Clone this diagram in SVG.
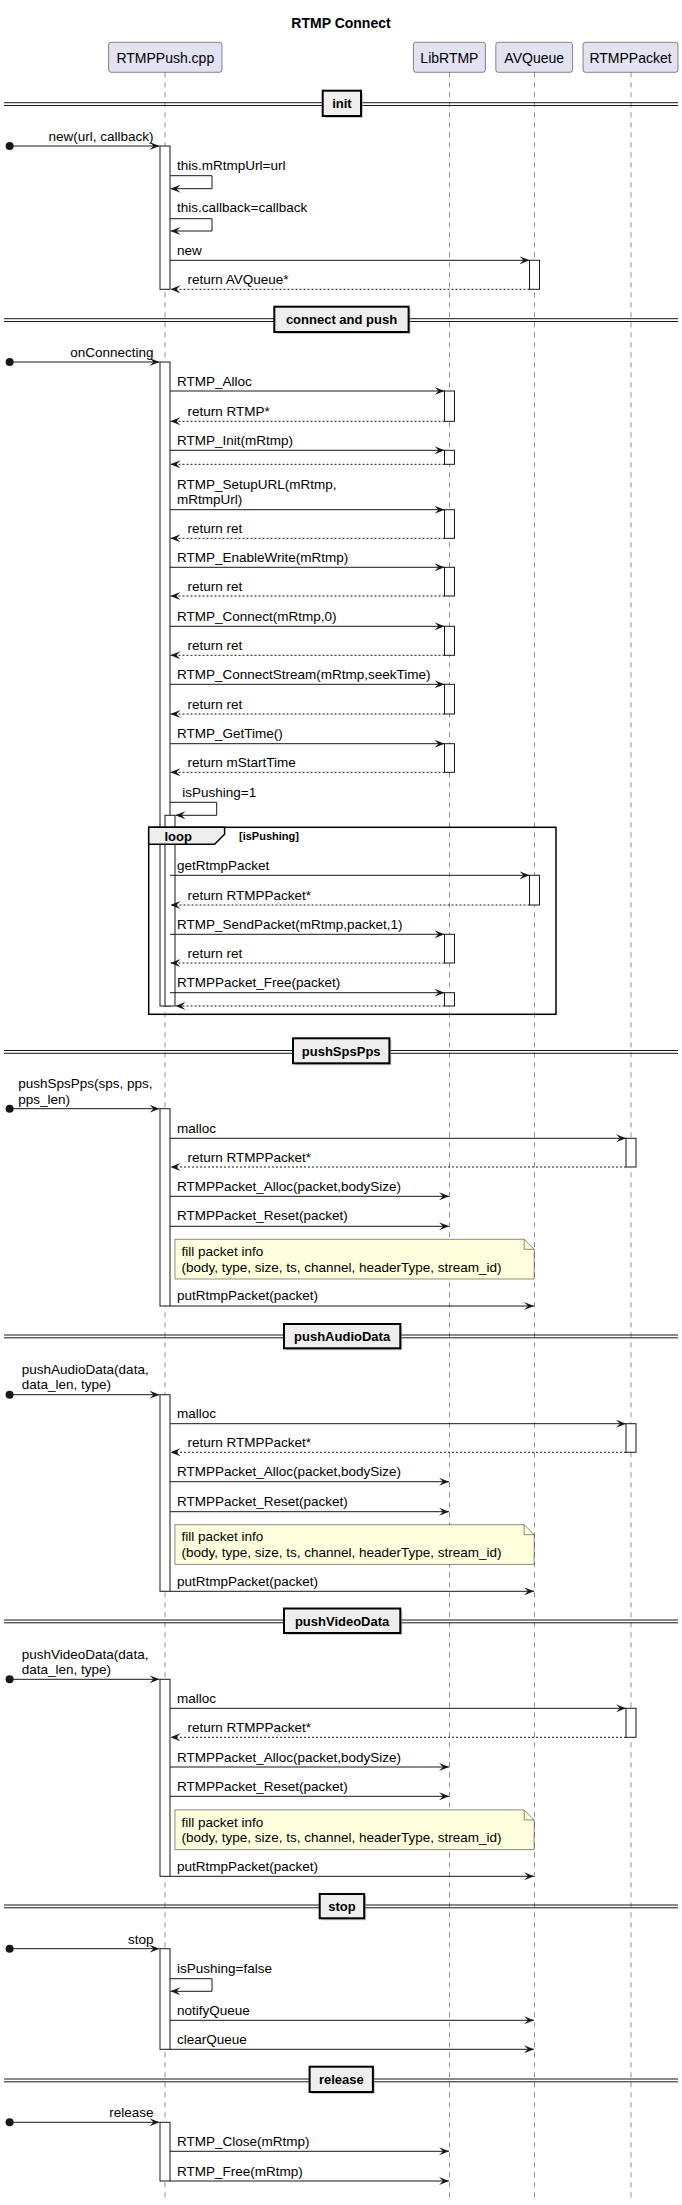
<svg xmlns="http://www.w3.org/2000/svg" width="682" height="2205" viewBox="0 0 682 2205">
<style>
text{font-family:"Liberation Sans",Arial,sans-serif;fill:#000}
.t{font-size:13.5px}
.p{font-size:14px;text-anchor:middle}
.title{font-size:14px;font-weight:bold;text-anchor:middle}
.dv{font-size:13px;font-weight:bold;text-anchor:middle}
.ll{stroke:#181818;stroke-width:0.5;stroke-dasharray:5,5;fill:none}
.pb{fill:#E2E2F0;stroke:#181818;stroke-width:0.5}
.act{fill:#FFFFFF;stroke:#181818;stroke-width:1}
.m{stroke:#181818;stroke-width:1;fill:none;marker-end:url(#ah)}
.r{stroke:#181818;stroke-width:1;stroke-dasharray:2,2;fill:none;marker-end:url(#ah)}
.dl{stroke:#181818;stroke-width:1}
.db{fill:#EEEEEE;stroke:#000;stroke-width:2}
.ds{fill:#999;opacity:0.5}
.note{fill:#FEFFDD;stroke:#181818;stroke-width:0.5}
.dot{fill:#181818}
</style>
<defs>
<marker id="ah" viewBox="0 0 10 8" refX="10" refY="4" markerWidth="10" markerHeight="8" markerUnits="userSpaceOnUse" orient="auto"><path d="M0,0 L10,4 L0,8 L4,4 Z" fill="#181818"/></marker>
</defs>
<rect width="682" height="2205" fill="#FFFFFF"/>
<text class="title" x="341" y="28">RTMP Connect</text>

<g id="p-rtmppush">
<line class="ll" x1="165" y1="72.3" x2="165" y2="2200"/>
<rect class="pb" x="108.6" y="42.3" width="113.4" height="30" rx="2.5"/>
<text class="p" x="165.3" y="62.5">RTMPPush.cpp</text>
</g>
<g id="p-librtmp">
<line class="ll" x1="449.5" y1="72.3" x2="449.5" y2="2200"/>
<rect class="pb" x="413.4" y="42.3" width="72" height="30" rx="2.5"/>
<text class="p" x="449.4" y="62.5">LibRTMP</text>
</g>
<g id="p-avqueue">
<line class="ll" x1="534.5" y1="72.3" x2="534.5" y2="2200"/>
<rect class="pb" x="495.8" y="42.3" width="76.8" height="30" rx="2.5"/>
<text class="p" x="534.2" y="62.5">AVQueue</text>
</g>
<g id="p-rtmppacket">
<line class="ll" x1="631" y1="72.3" x2="631" y2="2200"/>
<rect class="pb" x="583" y="42.3" width="95" height="30" rx="2.5"/>
<text class="p" x="630.5" y="62.5">RTMPPacket</text>
</g>

<g id="dividers">
<g id="d-init">
<line class="dl" x1="4" y1="102.7" x2="678" y2="102.7"/><line class="dl" x1="4" y1="105.5" x2="678" y2="105.5"/>
<rect class="ds" x="324.7" y="92.7" width="38.3" height="25.3"/>
<rect class="db" x="322.7" y="90.7" width="38.3" height="25.3"/>
<text class="dv" x="341.9" y="108">init</text>
</g>
<g id="d-connect">
<line class="dl" x1="4" y1="318.7" x2="678" y2="318.7"/><line class="dl" x1="4" y1="321.5" x2="678" y2="321.5"/>
<rect class="ds" x="276.3" y="308.7" width="134.3" height="25.3"/>
<rect class="db" x="274.3" y="306.7" width="134.3" height="25.3"/>
<text class="dv" x="341.5" y="324">connect and push</text>
</g>
<g id="d-spspps">
<line class="dl" x1="4" y1="1050.5" x2="678" y2="1050.5"/><line class="dl" x1="4" y1="1053.3" x2="678" y2="1053.3"/>
<rect class="ds" x="295" y="1040.3" width="96.4" height="25"/>
<rect class="db" x="293" y="1038.3" width="96.4" height="25"/>
<text class="dv" x="341.2" y="1055.5">pushSpsPps</text>
</g>
<g id="d-audio">
<line class="dl" x1="4" y1="1335" x2="678" y2="1335"/><line class="dl" x1="4" y1="1337.8" x2="678" y2="1337.8"/>
<rect class="ds" x="286" y="1326" width="116.3" height="24.3"/>
<rect class="db" x="284" y="1324" width="116.3" height="24.3"/>
<text class="dv" x="342.1" y="1341">pushAudioData</text>
</g>
<g id="d-video">
<line class="dl" x1="4" y1="1620" x2="678" y2="1620"/><line class="dl" x1="4" y1="1622.8" x2="678" y2="1622.8"/>
<rect class="ds" x="286" y="1610.5" width="116.3" height="24.5"/>
<rect class="db" x="284" y="1608.5" width="116.3" height="24.5"/>
<text class="dv" x="342.1" y="1625.7">pushVideoData</text>
</g>
<g id="d-stop">
<line class="dl" x1="4" y1="1905" x2="678" y2="1905"/><line class="dl" x1="4" y1="1907.8" x2="678" y2="1907.8"/>
<rect class="ds" x="321.7" y="1896" width="44.5" height="24.3"/>
<rect class="db" x="319.7" y="1894" width="44.5" height="24.3"/>
<text class="dv" x="342" y="1911">stop</text>
</g>
<g id="d-release">
<line class="dl" x1="4" y1="2079" x2="678" y2="2079"/><line class="dl" x1="4" y1="2081.8" x2="678" y2="2081.8"/>
<rect class="ds" x="311.6" y="2068.7" width="63.3" height="25.3"/>
<rect class="db" x="309.6" y="2066.7" width="63.3" height="25.3"/>
<text class="dv" x="341.3" y="2084">release</text>
</g>
</g>

<g id="activations">
<rect class="act" x="160" y="146" width="10" height="143.3"/>
<rect class="act" x="529.5" y="260.3" width="10" height="29"/>
<rect class="act" x="160" y="362" width="10" height="644"/>
<rect class="act" x="444.5" y="391" width="10" height="30.3"/>
<rect class="act" x="444.5" y="450.3" width="10" height="14"/>
<rect class="act" x="444.5" y="509.7" width="10" height="28.6"/>
<rect class="act" x="444.5" y="567.3" width="10" height="28.7"/>
<rect class="act" x="444.5" y="626.3" width="10" height="29"/>
<rect class="act" x="444.5" y="684.3" width="10" height="29.7"/>
<rect class="act" x="444.5" y="743.7" width="10" height="28.6"/>
<rect class="act" x="165" y="815.3" width="10" height="190.7"/>
<rect class="act" x="529.5" y="875.3" width="10" height="29.7"/>
<rect class="act" x="444.5" y="934.3" width="10" height="28.7"/>
<rect class="act" x="444.5" y="992.7" width="10" height="13.3"/>
<rect class="act" x="160" y="1108.7" width="10" height="197.3"/>
<rect class="act" x="626" y="1138.3" width="10" height="28.7"/>
<rect class="act" x="160" y="1394.7" width="10" height="196.6"/>
<rect class="act" x="626" y="1423.7" width="10" height="28.6"/>
<rect class="act" x="160" y="1679.3" width="10" height="197"/>
<rect class="act" x="626" y="1708.3" width="10" height="29"/>
<rect class="act" x="160" y="1948.7" width="10" height="100.6"/>
<rect class="act" x="160" y="2122.3" width="10" height="58.7"/>
</g>

<g id="loop-frame">
<rect x="148.7" y="827.3" width="407.3" height="187" fill="none" stroke="#000" stroke-width="1.5"/>
<path d="M148.7,827.3 L224.6,827.3 L224.6,834.3 L214.6,844.3 L148.7,844.3 Z" fill="#EEEEEE" stroke="#000" stroke-width="1.5"/>
<text x="164.4" y="840.5" style="font-size:13px;font-weight:bold">loop</text>
<text x="239" y="839.5" style="font-size:11px;font-weight:bold">[isPushing]</text>
</g>

<g id="notes">
<g id="note-1">
<path class="note" d="M174.9,1239.3 L524.2,1239.3 L534.2,1249.3 L534.2,1279 L174.9,1279 Z"/>
<path d="M524.2,1239.3 L524.2,1249.3 L534.2,1249.3" fill="none" stroke="#181818" stroke-width="0.5"/>
<text class="t" x="181.4" y="1256">fill packet info</text>
<text class="t" x="181.4" y="1271.5">(body, type, size, ts, channel, headerType, stream_id)</text>
</g>
<g id="note-2">
<path class="note" d="M174.9,1524.7 L524.2,1524.7 L534.2,1534.7 L534.2,1564.4 L174.9,1564.4 Z"/>
<path d="M524.2,1524.7 L524.2,1534.7 L534.2,1534.7" fill="none" stroke="#181818" stroke-width="0.5"/>
<text class="t" x="181.4" y="1541.4">fill packet info</text>
<text class="t" x="181.4" y="1556.9">(body, type, size, ts, channel, headerType, stream_id)</text>
</g>
<g id="note-3">
<path class="note" d="M174.9,1809.9 L524.2,1809.9 L534.2,1819.9 L534.2,1849.6 L174.9,1849.6 Z"/>
<path d="M524.2,1809.9 L524.2,1819.9 L534.2,1819.9" fill="none" stroke="#181818" stroke-width="0.5"/>
<text class="t" x="181.4" y="1826.6">fill packet info</text>
<text class="t" x="181.4" y="1842.1">(body, type, size, ts, channel, headerType, stream_id)</text>
</g>
</g>

<g id="connectors">
<!-- init -->
<circle class="dot" cx="9.6" cy="146" r="4"/>
<line class="m" x1="9.6" y1="146" x2="159.5" y2="146"/>
<text class="t" x="153.5" y="141" text-anchor="end">new(url, callback)</text>
<polyline class="m" points="170,175.7 212,175.7 212,188.7 170.5,188.7"/>
<text class="t" x="177" y="170">this.mRtmpUrl=url</text>
<polyline class="m" points="170,218.7 212,218.7 212,231 170.5,231"/>
<text class="t" x="177" y="212">this.callback=callback</text>
<line class="m" x1="170" y1="260.3" x2="529.5" y2="260.3"/>
<text class="t" x="177" y="255">new</text>
<line class="r" x1="529.5" y1="289.3" x2="170.5" y2="289.3"/>
<text class="t" x="187.5" y="284">return AVQueue*</text>

<!-- connect and push -->
<circle class="dot" cx="9.6" cy="362" r="4"/>
<line class="m" x1="9.6" y1="362" x2="159.5" y2="362"/>
<text class="t" x="153.5" y="357" text-anchor="end">onConnecting</text>
<line class="m" x1="170" y1="391" x2="444.5" y2="391"/>
<text class="t" x="177" y="386">RTMP_Alloc</text>
<line class="r" x1="444.5" y1="421.3" x2="170.5" y2="421.3"/>
<text class="t" x="187.5" y="415.5">return RTMP*</text>
<line class="m" x1="170" y1="450.3" x2="444.5" y2="450.3"/>
<text class="t" x="177" y="445.3">RTMP_Init(mRtmp)</text>
<line class="r" x1="444.5" y1="464.3" x2="170.5" y2="464.3"/>
<line class="m" x1="170" y1="509.7" x2="444.5" y2="509.7"/>
<text class="t" x="177" y="489">RTMP_SetupURL(mRtmp,</text>
<text class="t" x="177" y="504">mRtmpUrl)</text>
<line class="r" x1="444.5" y1="538.3" x2="170.5" y2="538.3"/>
<text class="t" x="187.5" y="533.3">return ret</text>
<line class="m" x1="170" y1="567.3" x2="444.5" y2="567.3"/>
<text class="t" x="177" y="562">RTMP_EnableWrite(mRtmp)</text>
<line class="r" x1="444.5" y1="596" x2="170.5" y2="596"/>
<text class="t" x="187.5" y="591">return ret</text>
<line class="m" x1="170" y1="626.3" x2="444.5" y2="626.3"/>
<text class="t" x="177" y="621">RTMP_Connect(mRtmp,0)</text>
<line class="r" x1="444.5" y1="655.3" x2="170.5" y2="655.3"/>
<text class="t" x="187.5" y="650">return ret</text>
<line class="m" x1="170" y1="684.3" x2="444.5" y2="684.3"/>
<text class="t" x="177" y="679.3">RTMP_ConnectStream(mRtmp,seekTime)</text>
<line class="r" x1="444.5" y1="714" x2="170.5" y2="714"/>
<text class="t" x="187.5" y="708.7">return ret</text>
<line class="m" x1="170" y1="743.7" x2="444.5" y2="743.7"/>
<text class="t" x="177" y="738">RTMP_GetTime()</text>
<line class="r" x1="444.5" y1="772.3" x2="170.5" y2="772.3"/>
<text class="t" x="187.5" y="767">return mStartTime</text>
<polyline class="m" points="170,802.3 216.7,802.3 216.7,815.3 175.5,815.3"/>
<text class="t" x="182.3" y="796.5">isPushing=1</text>
<line class="m" x1="170" y1="875.3" x2="529.5" y2="875.3"/>
<text class="t" x="177" y="870">getRtmpPacket</text>
<line class="r" x1="529.5" y1="905" x2="170.5" y2="905"/>
<text class="t" x="187.5" y="899.5">return RTMPPacket*</text>
<line class="m" x1="170" y1="934.3" x2="444.5" y2="934.3"/>
<text class="t" x="177" y="929">RTMP_SendPacket(mRtmp,packet,1)</text>
<line class="r" x1="444.5" y1="963" x2="170.5" y2="963"/>
<text class="t" x="187.5" y="957.7">return ret</text>
<line class="m" x1="170" y1="992.7" x2="444.5" y2="992.7"/>
<text class="t" x="177" y="987">RTMPPacket_Free(packet)</text>
<line class="r" x1="444.5" y1="1006" x2="175.5" y2="1006"/>

<!-- pushSpsPps -->
<circle class="dot" cx="9.6" cy="1108.7" r="4"/>
<line class="m" x1="9.6" y1="1108.7" x2="159.5" y2="1108.7"/>
<text class="t" x="18.3" y="1088.3">pushSpsPps(sps, pps,</text>
<text class="t" x="18.3" y="1103.5">pps_len)</text>
<line class="m" x1="170" y1="1138.3" x2="626" y2="1138.3"/>
<text class="t" x="177" y="1132.5">malloc</text>
<line class="r" x1="626" y1="1167" x2="170.5" y2="1167"/>
<text class="t" x="187.5" y="1161.5">return RTMPPacket*</text>
<line class="m" x1="170" y1="1196.3" x2="449" y2="1196.3"/>
<text class="t" x="177" y="1191">RTMPPacket_Alloc(packet,bodySize)</text>
<line class="m" x1="170" y1="1226.3" x2="449" y2="1226.3"/>
<text class="t" x="177" y="1220.3">RTMPPacket_Reset(packet)</text>
<line class="m" x1="170" y1="1306" x2="534" y2="1306"/>
<text class="t" x="177" y="1300.3">putRtmpPacket(packet)</text>

<!-- pushAudioData -->
<circle class="dot" cx="9.6" cy="1394.7" r="4"/>
<line class="m" x1="9.6" y1="1394.7" x2="159.5" y2="1394.7"/>
<text class="t" x="21.8" y="1373.5">pushAudioData(data,</text>
<text class="t" x="21.8" y="1388.7">data_len, type)</text>
<line class="m" x1="170" y1="1423.7" x2="626" y2="1423.7"/>
<text class="t" x="177" y="1418">malloc</text>
<line class="r" x1="626" y1="1452.3" x2="170.5" y2="1452.3"/>
<text class="t" x="187.5" y="1447">return RTMPPacket*</text>
<line class="m" x1="170" y1="1481.7" x2="449" y2="1481.7"/>
<text class="t" x="177" y="1476.4">RTMPPacket_Alloc(packet,bodySize)</text>
<line class="m" x1="170" y1="1511.7" x2="449" y2="1511.7"/>
<text class="t" x="177" y="1505.7">RTMPPacket_Reset(packet)</text>
<line class="m" x1="170" y1="1591.3" x2="534" y2="1591.3"/>
<text class="t" x="177" y="1585.7">putRtmpPacket(packet)</text>

<!-- pushVideoData -->
<circle class="dot" cx="9.6" cy="1679.3" r="4"/>
<line class="m" x1="9.6" y1="1679.3" x2="159.5" y2="1679.3"/>
<text class="t" x="21.8" y="1658.5">pushVideoData(data,</text>
<text class="t" x="21.8" y="1673.7">data_len, type)</text>
<line class="m" x1="170" y1="1708.3" x2="626" y2="1708.3"/>
<text class="t" x="177" y="1702.7">malloc</text>
<line class="r" x1="626" y1="1737.3" x2="170.5" y2="1737.3"/>
<text class="t" x="187.5" y="1731.8">return RTMPPacket*</text>
<line class="m" x1="170" y1="1767" x2="449" y2="1767"/>
<text class="t" x="177" y="1761.5">RTMPPacket_Alloc(packet,bodySize)</text>
<line class="m" x1="170" y1="1796.3" x2="449" y2="1796.3"/>
<text class="t" x="177" y="1790.8">RTMPPacket_Reset(packet)</text>
<line class="m" x1="170" y1="1876.3" x2="534" y2="1876.3"/>
<text class="t" x="177" y="1870.8">putRtmpPacket(packet)</text>

<!-- stop -->
<circle class="dot" cx="9.6" cy="1948.7" r="4"/>
<line class="m" x1="9.6" y1="1948.7" x2="159.5" y2="1948.7"/>
<text class="t" x="153.5" y="1943.5" text-anchor="end">stop</text>
<polyline class="m" points="170,1978.7 212,1978.7 212,1991.3 170.5,1991.3"/>
<text class="t" x="177" y="1972.5">isPushing=false</text>
<line class="m" x1="170" y1="2020.3" x2="534" y2="2020.3"/>
<text class="t" x="177" y="2015">notifyQueue</text>
<line class="m" x1="170" y1="2049.3" x2="534" y2="2049.3"/>
<text class="t" x="177" y="2044">clearQueue</text>

<!-- release -->
<circle class="dot" cx="9.6" cy="2122.3" r="4"/>
<line class="m" x1="9.6" y1="2122.3" x2="159.5" y2="2122.3"/>
<text class="t" x="153.5" y="2117.3" text-anchor="end">release</text>
<line class="m" x1="170" y1="2151.3" x2="449" y2="2151.3"/>
<text class="t" x="177" y="2146">RTMP_Close(mRtmp)</text>
<line class="m" x1="170" y1="2181" x2="449" y2="2181"/>
<text class="t" x="177" y="2175.5">RTMP_Free(mRtmp)</text>
</g>
</svg>
